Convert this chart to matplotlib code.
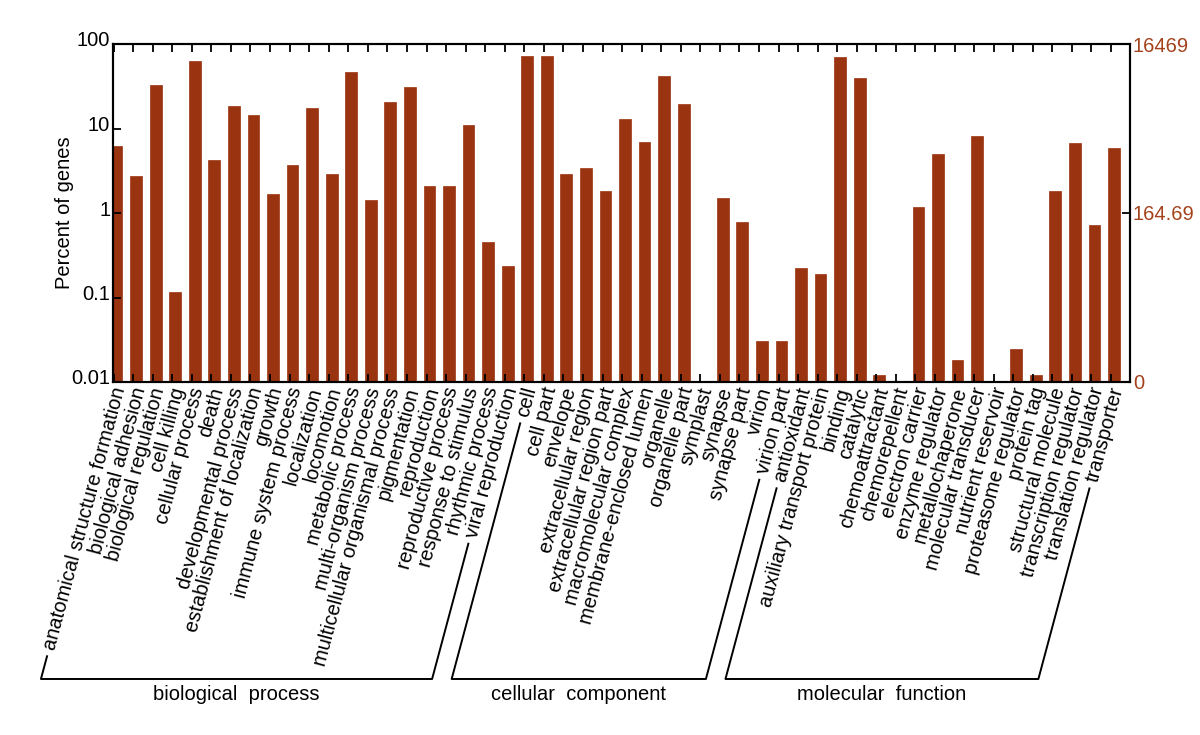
import numpy as np
import matplotlib
matplotlib.use("Agg")
import matplotlib.pyplot as plt
import matplotlib.transforms as mtransforms

plt.rcParams['font.family'] = ['Liberation Sans', 'DejaVu Sans']

# GO categories, grouped
bio_process = ['anatomical structure formation', 'biological adhesion', 'biological regulation',
               'cell killing', 'cellular process', 'death', 'developmental process',
               'establishment of localization', 'growth', 'immune system process', 'localization',
               'locomotion', 'metabolic process', 'multi-organism process',
               'multicellular organismal process', 'pigmentation', 'reproduction',
               'reproductive process', 'response to stimulus', 'rhythmic process', 'viral reproduction']
cell_component = ['cell', 'cell part', 'envelope', 'extracellular region', 'extracellular region part',
                  'macromolecular complex', 'membrane-enclosed lumen', 'organelle', 'organelle part',
                  'symplast', 'synapse', 'synapse part', 'virion', 'virion part']
mol_function = ['antioxidant', 'auxiliary transport protein', 'binding', 'catalytic', 'chemoattractant',
                'chemorepellent', 'electron carrier', 'enzyme regulator', 'metallochaperone',
                'molecular transducer', 'nutrient reservoir', 'proteasome regulator', 'protein tag',
                'structural molecule', 'transcription regulator', 'translation regulator', 'transporter']

# percent of genes
bio_pct = [6.15, 2.74, 32.4, 0.116, 63.0, 4.24, 18.3, 14.6, 1.66, 3.70, 17.5,
           2.90, 47.0, 1.41, 20.6, 30.7, 2.09, 2.07, 11.0, 0.45, 0.234]
cell_pct = [71.5, 71.5, 2.92, 3.41, 1.80, 12.8, 6.98, 41.8, 19.7, 0, 1.51, 0.79, 0.0304, 0.0304]
mol_pct = [0.225, 0.191, 69.6, 39.3, 0.0122, 0, 1.18, 5.03, 0.0184, 8.08, 0, 0.0246, 0.0122,
           1.80, 6.79, 0.715, 5.93]

group_names = ['biological  process', 'cellular  component', 'molecular  function']
total_genes = 16469
right_ticks = [0.01, 1, 100]
right_labels = ['0', '164.69', '16469']

bar_color = '#9a3410'
right_color = '#a4421c'
fs = 14.5

labels = bio_process + cell_component + mol_function
pct = np.array(bio_pct + cell_pct + mol_pct)
groups = [bio_process, cell_component, mol_function]
x = np.arange(len(labels))

fig = plt.figure(figsize=(12, 7.35), dpi=100)
ax = fig.add_axes([113/1200, 1 - 382/735, 1017/1200, 338/735])

ax.set_yscale('log')
ax.bar(x, pct, width=0.6, color=bar_color, edgecolor=bar_color, linewidth=0.5)
ax.set_ylim(0.01, 100)
ax.set_xlim(-0.18, len(labels) - 0.18)

ax.set_yticks([0.01, 0.1, 1, 10, 100])
ax.set_yticklabels(['0.01', '0.1', '1', '10', '100'], fontsize=fs)
ax.yaxis.set_minor_locator(plt.NullLocator())
ax.tick_params(axis='y', direction='in', length=6, width=1.3, pad=2)
shift = mtransforms.ScaledTranslation(0, 5/100, fig.dpi_scale_trans)
for t in ax.get_yticklabels():
    t.set_transform(t.get_transform() + shift)
ax.set_ylabel('Percent of genes', fontsize=fs, labelpad=-2)

# tick marks top & bottom, labels separately
ax.set_xticks(x - 0.15, minor=True)
ax.tick_params(axis='x', which='minor', direction='in', length=6, width=1.3, top=True, bottom=True)
ax.set_xticks(x + 0.2)
ax.set_xticklabels(labels, rotation=75, ha='right', va='center', rotation_mode='anchor', fontsize=fs)
ax.tick_params(axis='x', which='major', length=0, pad=4)

for s in ax.spines.values():
    s.set_linewidth(1.5)

ax2 = ax.twinx()
ax2.set_yscale('log')
ax2.set_ylim(0.01, 100)
ax2.set_yticks(right_ticks)
ax2.set_yticklabels(right_labels, fontsize=fs, color=right_color)
ax2.yaxis.set_minor_locator(plt.NullLocator())
ax2.tick_params(axis='y', direction='in', length=6, width=1.3, pad=2)
for s in ax2.spines.values():
    s.set_linewidth(1.5)

# group brackets under the labels
fig.canvas.draw()
renderer = fig.canvas.get_renderer()
W, H = fig.bbox.width, fig.bbox.height
ticklabels = ax.get_xticklabels()
y_axis = ax.transAxes.transform((0, 0))[1]
y_bot = H - 679
tan = np.tan(np.radians(75))


def side(i):
    xi = ax.transData.transform((x[i], 0))[0] + 4
    top = ticklabels[i].get_window_extent(renderer).y0 - 4
    xb = xi - (y_axis - y_bot) / tan
    xt = xi - (y_axis - top) / tan
    return (xb, y_bot), (xt, top)


start = 0
for name, g in zip(group_names, groups):
    end = start + len(g) - 1
    (lb, lt), (rb, rt) = side(start), side(end)
    px = [lt[0], lb[0], rb[0], rt[0]]
    py = [lt[1], lb[1], rb[1], rt[1]]
    fig.add_artist(plt.Line2D(np.array(px) / W, np.array(py) / H, color='black', lw=1.4))
    fig.text((lb[0] + rb[0]) / 2 / W, (y_bot - 16) / H, name, ha='center', va='center', fontsize=fs)
    start = end + 1

fig.savefig('out.png', dpi=100)
